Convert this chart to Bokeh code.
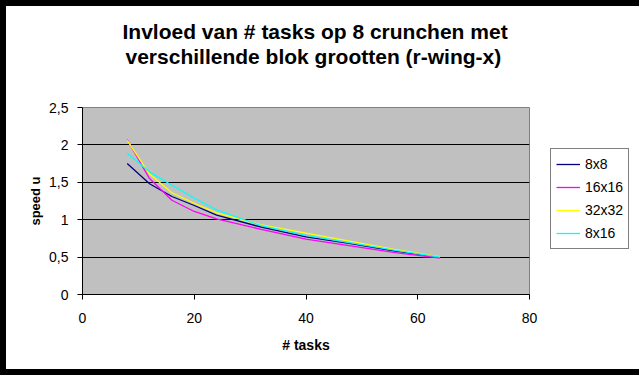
from bokeh.plotting import figure
from bokeh.models import Title, Legend, LegendItem, FixedTicker
from bokeh.embed import file_html
from bokeh.resources import INLINE

# ---- data ----
tasks = [8, 12, 16, 20, 24, 32, 40, 48, 56, 64]
s_8x8 = [1.75, 1.48, 1.31, 1.19, 1.06, 0.90, 0.77, 0.68, 0.58, 0.50]
s_16x16 = [2.07, 1.55, 1.26, 1.11, 1.01, 0.87, 0.74, 0.65, 0.56, 0.485]
s_32x32 = [2.06, 1.61, 1.36, 1.22, 1.09, 0.93, 0.82, 0.71, 0.60, 0.505]
s_8x16 = [1.89, 1.64, 1.46, 1.29, 1.13, 0.92, 0.79, 0.69, 0.59, 0.50]
series_names = ["8x8", "16x16", "32x32", "8x16"]
series_colors = ["#000080", "#FF00FF", "#FFFF00", "#00FFFF"]
x_ticks = [0, 20, 40, 60, 80]
x_tick_labels = ["0", "20", "40", "60", "80"]
y_ticks = [0, 0.5, 1, 1.5, 2, 2.5]
y_tick_labels = ["0", "0,5", "1", "1,5", "2", "2,5"]
grid_ticks = [0.5, 1, 1.5, 2]
title_line1 = "Invloed van # tasks op 8 crunchen met"
title_line2 = "verschillende blok grootten (r-wing-x)"
x_label = "# tasks"
y_label = "speed u"

FONT = "Liberation Sans"

p = figure(frame_width=447, frame_height=187, x_range=(0, 80), y_range=(0, 2.5),
           output_backend="svg", toolbar_location=None,
           min_border_left=76, min_border_right=104,
           min_border_top=101, min_border_bottom=75)
p.styles = {"margin": "6px", "box-shadow": "0 0 0 6px black"}
p.background_fill_color = "#C0C0C0"
p.border_fill_color = "white"
p.outline_line_color = "#808080"
p.outline_line_width = 1

# titles: p.title is outermost, added titles sit closer to the plot area
p.title = Title(text=title_line1, align="left", text_font=FONT,
                text_font_size="21px", text_font_style="bold",
                text_color="black", offset=40, standoff=0)
p.add_layout(Title(text=title_line2, align="left", text_font=FONT,
                   text_font_size="21px", text_font_style="bold",
                   text_color="black", offset=43, standoff=0,
                   padding=dict(left=0, right=0, top=0, bottom=40)), "above")

# grid
p.xgrid.visible = False
p.ygrid.ticker = FixedTicker(ticks=grid_ticks)
p.ygrid.grid_line_color = "black"
p.ygrid.grid_line_width = 1

# axes
for ax in (p.xaxis[0], p.yaxis[0]):
    ax.axis_line_color = "black"
    ax.major_tick_line_color = "black"
    ax.major_tick_in = 0
    ax.major_tick_out = 5
    ax.minor_tick_line_color = None
    ax.major_label_text_font = FONT
    ax.major_label_text_font_size = "14px"
    ax.major_label_text_color = "black"
    ax.axis_label_text_font = FONT
    ax.axis_label_text_font_style = "bold"
    ax.axis_label_text_color = "black"

p.xaxis.ticker = FixedTicker(ticks=x_ticks)
p.xaxis.major_label_overrides = dict(zip(x_ticks, x_tick_labels))
p.xaxis.major_label_standoff = 13
p.xaxis.axis_label = x_label
p.xaxis.axis_label_text_font_size = "14px"
p.xaxis.axis_label_standoff = 11

p.yaxis.ticker = FixedTicker(ticks=y_ticks)
p.yaxis.major_label_overrides = dict(zip(y_ticks, y_tick_labels))
p.yaxis.major_label_standoff = 9
p.yaxis.axis_label = y_label
p.yaxis.axis_label_text_font_size = "13px"
p.yaxis.axis_label_standoff = 3

# lines
all_series = [s_8x8, s_16x16, s_32x32, s_8x16]
items = []
for name, vals, col in zip(series_names, all_series, series_colors):
    r = p.line(tasks, vals, line_color=col, line_width=1.3)
    items.append(LegendItem(label=name, renderers=[r]))

legend = Legend(items=items, location=(21, 45))
legend.border_line_color = "black"
legend.border_line_width = 1
legend.background_fill_color = "white"
legend.background_fill_alpha = 1
legend.label_text_font = FONT
legend.label_text_font_size = "14px"
legend.label_text_color = "black"
legend.glyph_width = 24
legend.glyph_height = 20
legend.label_height = 20
legend.label_standoff = 5
legend.spacing = 3
legend.padding = 5
legend.margin = 0
p.add_layout(legend, "right")

open("out.html", "w").write(file_html(p, INLINE))
